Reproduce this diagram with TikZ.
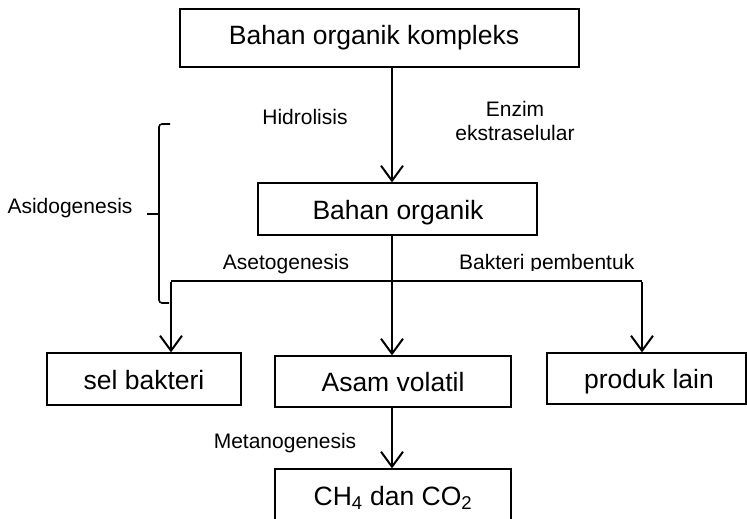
\documentclass[tikz,border=0pt]{standalone}
\usepackage{fontspec}
\setmainfont{Liberation Sans}
\usetikzlibrary{arrows.meta}
\begin{document}
\begin{tikzpicture}[x=1pt,y=-1pt,
  box/.style={draw=black,line width=1.2pt,inner sep=0pt},
  big/.style={anchor=base,inner sep=0pt,font=\fontsize{26.5}{30}\selectfont},
  small/.style={anchor=base,inner sep=0pt,font=\fontsize{21}{24}\selectfont},
  arr/.style={line width=2pt,-{Straight Barb[length=15pt,width=22pt,line width=2pt]}},
  conn/.style={line width=2pt},
  bracel/.style={line width=1.6pt}]
\useasboundingbox (0,0) rectangle (747,519);
\clip (0,0) rectangle (747,519);
% boxes
\node[box,minimum width=399pt,minimum height=58pt] (top) at (379.5,38) {};
\node[box,minimum width=279pt,minimum height=52pt] (bo) at (397.5,209) {};
\node[box,minimum width=194pt,minimum height=52pt] (sb) at (144,379) {};
\node[box,minimum width=236pt,minimum height=51pt] (av) at (393,381.5) {};
\node[box,minimum width=199pt,minimum height=51pt] (pl) at (646.5,378.5) {};
\node[box,minimum width=236pt,minimum height=62pt] (ch) at (393,500) {};
% box texts
\node[big] (ttop) at (374,45) {Bahan organik kompleks};
\node[big] (tbo) at (398,219) {Bahan organik};
\node[big] (tsb) at (144,389) {sel bakteri};
\node[big] (tav) at (393,391) {Asam volatil};
\node[big] (tpl) at (649,388) {produk lain};
\node[big] (tch) at (393,505) {CH\textsubscript{4} dan CO\textsubscript{2}};
% labels
\node[small] (hid) at (305,124) {Hidrolisis};
\node[small] (enz) at (515,116) {Enzim};
\node[small] (eks) at (515,140) {ekstraselular};
\node[small] (ase) at (286,269) {Asetogenesis};
\node[small] (asi) at (70,213) {Asidogenesis};
\node[small] (met) at (285,448) {Metanogenesis};
\begin{scope}
\clip (440,240) rectangle (700,270.5);
\node[small,anchor=base west] (bak) at (459,269) {Bakteri pembentuk};
\end{scope}
% connectors
\coordinate (axis) at (392,0);
\coordinate (L) at (171,281);
\coordinate (R) at (642,281);
\draw[arr] (top.south -| axis) -- (bo.north -| axis);
\draw[arr] (bo.south -| axis) -- (av.north -| axis);
\draw[conn] (L) -- (R);
\draw[arr] ([yshift=-1pt]L) -- (sb.north -| L);
\draw[arr] ([yshift=-1pt]R) -- (pl.north -| R);
\draw[arr] (av.south -| axis) -- (ch.north -| axis);
% brace
\coordinate (btop) at (170,124);
\coordinate (bbot) at (169,303);
\coordinate (btip) at (147,214);
\draw[bracel,rounded corners=3pt] (btop) -- (159,124) -- (159,303) -- (bbot);
\draw[line width=2.3pt] (btip) -- (159,214);
\end{tikzpicture}
\end{document}
